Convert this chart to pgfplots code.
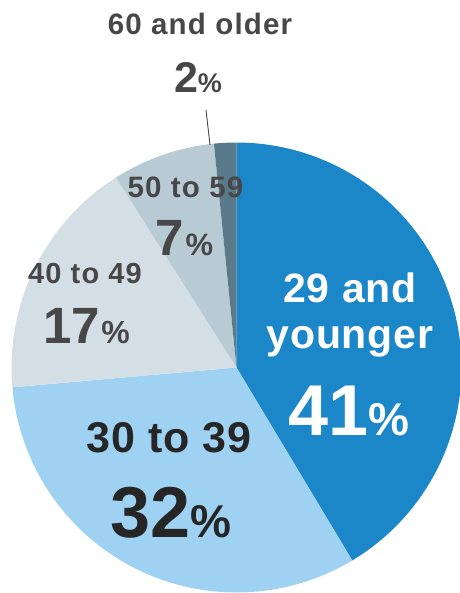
\documentclass[border=0pt]{standalone}
\usepackage{pgfplots}
\usepackage{pgfplotstable}
\pgfplotsset{compat=1.18}
\usepackage{fontspec}
\setmainfont{Liberation Sans}
\newfontfamily\lsA[LetterSpace=4]{Liberation Sans}
\newfontfamily\lsB[LetterSpace=2]{Liberation Sans}
\definecolor{cA}{HTML}{1B87C9}
\definecolor{cB}{HTML}{9ED1F2}
\definecolor{cC}{HTML}{D4DEE5}
\definecolor{cD}{HTML}{B8CAD4}
\definecolor{cE}{HTML}{587A8A}
\definecolor{txtG}{HTML}{474747}
\definecolor{txtD}{HTML}{262626}
\pgfplotstableread{
label value
A 41.4
B 32.2
C 17.4
D 7.4
E 1.6
}\agedata
\newcommand{\fs}[1]{\fontsize{#1}{#1}\selectfont}
\begin{document}
\begin{tikzpicture}
\pgfplotstablegetelem{0}{value}\of\agedata \let\vA\pgfplotsretval
\pgfplotstablegetelem{1}{value}\of\agedata \let\vB\pgfplotsretval
\pgfplotstablegetelem{2}{value}\of\agedata \let\vC\pgfplotsretval
\pgfplotstablegetelem{3}{value}\of\agedata \let\vD\pgfplotsretval
\pgfplotstablegetelem{4}{value}\of\agedata \let\vE\pgfplotsretval
\pgfmathsetmacro\tot{\vA+\vB+\vC+\vD+\vE}
\pgfmathsetmacro\aA{0}
\pgfmathsetmacro\aB{\aA+360*\vA/\tot}
\pgfmathsetmacro\aC{\aB+360*\vB/\tot}
\pgfmathsetmacro\aD{\aC+360*\vC/\tot}
\pgfmathsetmacro\aE{\aD+360*\vD/\tot}
\pgfmathsetmacro\aF{\aE+360*\vE/\tot}
\begin{axis}[width=459pt,height=593pt,scale only axis,
  xmin=0,xmax=459,ymin=0,ymax=593,y dir=reverse,
  hide axis,clip=false]
\addplot[fill=cA,draw=none,domain=\aA:\aB,samples=90,variable=\t]
  ({236.5+225*sin(\t)},{367.5-225*cos(\t)}) -- (axis cs:236.5,367.5) -- cycle;
\addplot[fill=cB,draw=none,domain=\aB:\aC,samples=90,variable=\t]
  ({236.5+225*sin(\t)},{367.5-225*cos(\t)}) -- (axis cs:236.5,367.5) -- cycle;
\addplot[fill=cC,draw=none,domain=\aC:\aD,samples=60,variable=\t]
  ({236.5+225*sin(\t)},{367.5-225*cos(\t)}) -- (axis cs:236.5,367.5) -- cycle;
\addplot[fill=cD,draw=none,domain=\aD:\aE,samples=30,variable=\t]
  ({236.5+225*sin(\t)},{367.5-225*cos(\t)}) -- (axis cs:236.5,367.5) -- cycle;
\addplot[fill=cE,draw=none,domain=\aE:\aF,samples=10,variable=\t]
  ({236.5+225*sin(\t)},{367.5-225*cos(\t)}) -- (axis cs:236.5,367.5) -- cycle;
% leader line
\draw[txtG,line width=0.9pt] (axis cs:206,110) -- (axis cs:210,145);
% labels
\node[anchor=base,text=txtG,font=\lsA\bfseries\fs{29.5}] at (axis cs:200,35) {60 and older};
\node[anchor=base,text=txtG,font=\bfseries] at (axis cs:198,93) {{\fs{43}2}{\fs{27}\%}};
\node[anchor=base,text=txtG,font=\lsA\bfseries\fs{29.5}] at (axis cs:185.5,198) {50 to 59};
\node[anchor=base,text=txtG,font=\bfseries] at (axis cs:184.5,255) {{\fs{51}7}\,{\fs{31}\%}};
\node[anchor=base,text=txtG,font=\lsA\bfseries\fs{29}] at (axis cs:85,283) {40 to 49};
\node[anchor=base,text=txtG,font=\bfseries] at (axis cs:86.5,343) {{\fs{51}17}\,{\fs{32}\%}};
\node[anchor=base,text=txtD,font=\lsB\bfseries\fs{43}] at (axis cs:169,452) {30 to 39};
\node[anchor=base,text=txtD,font=\bfseries] at (axis cs:170.5,537) {{\fs{72}32}{\fs{46}\%}};
\node[anchor=base,text=white,font=\lsB\bfseries\fs{41}] at (axis cs:350,302) {29 and};
\node[anchor=base,text=white,font=\lsB\bfseries\fs{41}] at (axis cs:350,348) {younger};
\node[anchor=base,text=white,font=\bfseries] at (axis cs:349,435) {{\fs{72}41}{\fs{46}\%}};
\end{axis}
\pgfresetboundingbox
\path[use as bounding box] (current axis.south west) rectangle (current axis.north east);
\end{tikzpicture}
\end{document}
